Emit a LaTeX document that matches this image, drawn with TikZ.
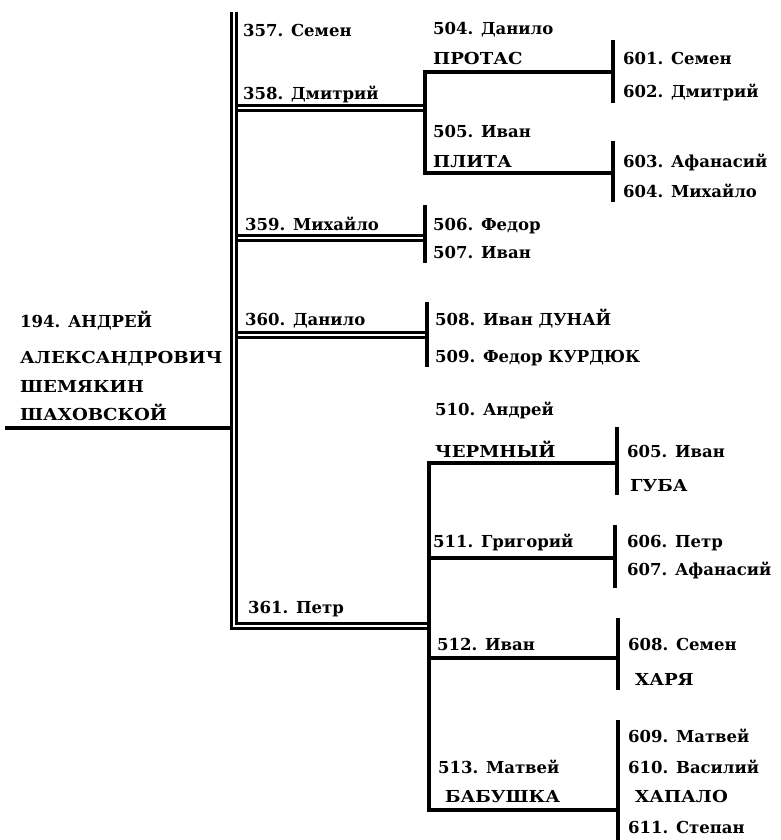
\documentclass[tikz,border=0pt]{standalone}
\usepackage{fontspec}
\setmainfont{DejaVu Serif}
\newfontfamily\capsfont[FakeStretch=1.1]{DejaVu Serif}
\begin{document}
\begin{tikzpicture}[x=1pt,y=-1pt,
  lbl/.style={anchor=base west,inner sep=0pt,font=\fontsize{16.5}{19}\selectfont\bfseries},
  caps/.style={lbl,font=\fontsize{16.5}{19}\capsfont\bfseries},
  bar/.style={line width=4pt},
  dbl/.style={double,double distance=2.6pt,line width=2.4pt}]
\useasboundingbox (0,0) rectangle (781,840);

% ---- labels ----
\node[lbl] (a194) at (20,327) {194. АНДРЕЙ};
\node[caps] (a194b) at (20,363) {АЛЕКСАНДРОВИЧ};
\node[caps] (a194c) at (20,392) {ШЕМЯКИН};
\node[caps] (a194d) at (20,420) {ШАХОВСКОЙ};

\node[lbl] (n357) at (243,37) {357. Семен};
\node[lbl] (n358) at (243,100) {358. Дмитрий};
\node[lbl] (n359) at (245,230) {359. Михайло};
\node[lbl] (n360) at (245,325) {360. Данило};
\node[lbl] (n361) at (248,613) {361. Петр};

\node[lbl] (n504) at (433,35) {504. Данило};
\node[caps] (n504b) at (433,65) {ПРОТАС};
\node[lbl] (n505) at (433,137) {505. Иван};
\node[caps] (n505b) at (433,167) {ПЛИТА};
\node[lbl] (n506) at (433,230) {506. Федор};
\node[lbl] (n507) at (433,258) {507. Иван};
\node[lbl] (n508) at (435,325) {508. Иван ДУНАЙ};
\node[lbl] (n509) at (435,362) {509. Федор КУРДЮК};
\node[lbl] (n510) at (435,415) {510. Андрей};
\node[caps] (n510b) at (435,457) {ЧЕРМНЫЙ};
\node[lbl] (n511) at (433,547) {511. Григорий};
\node[lbl] (n512) at (437,650) {512. Иван};
\node[lbl] (n513) at (438,773) {513. Матвей};
\node[caps] (n513b) at (445,802) {БАБУШКА};

\node[lbl] (n601) at (623,65) {601. Семен};
\node[lbl] (n602) at (623,98) {602. Дмитрий};
\node[lbl] (n603) at (623,167) {603. Афанасий};
\node[lbl] (n604) at (623,197) {604. Михайло};
\node[lbl] (n605) at (627,457) {605. Иван};
\node[caps] (n605b) at (630,491) {ГУБА};
\node[lbl] (n606) at (627,547) {606. Петр};
\node[lbl] (n607) at (627,575) {607. Афанасий};
\node[lbl] (n608) at (628,650) {608. Семен};
\node[caps] (n608b) at (635,685) {ХАРЯ};
\node[lbl] (n609) at (628,742) {609. Матвей};
\node[lbl] (n610) at (628,773) {610. Василий};
\node[caps] (n610b) at (635,802) {ХАПАЛО};
\node[lbl] (n611) at (628,833) {611. Степан};

% ---- coordinates ----
\coordinate (vTop) at (234,12);
\coordinate (vBot) at (234,626);
\coordinate (h361) at (429,626);
\coordinate (rootL) at (5,428);
\coordinate (rootR) at (230,428);
\coordinate (h358a) at (237.5,108);
\coordinate (h358b) at (425,108);
\coordinate (h359a) at (237.5,238);
\coordinate (h359b) at (425,238);
\coordinate (h360a) at (237.5,335);
\coordinate (h360b) at (427,335);

\coordinate (b5a) at (613,72);
\coordinate (b5b) at (425,72);
\coordinate (b5c) at (425,173);
\coordinate (b5d) at (613,173);
\coordinate (b601t) at (613,40);
\coordinate (b601b) at (613,103);
\coordinate (b603t) at (613,141);
\coordinate (b603b) at (613,202);
\coordinate (b506t) at (425,205);
\coordinate (b506b) at (425,263);
\coordinate (b508t) at (427,302);
\coordinate (b508b) at (427,367);

\coordinate (c510a) at (617,463);
\coordinate (c510b) at (429,463);
\coordinate (c513a) at (429,810);
\coordinate (c513b) at (618,810);
\coordinate (c511a) at (429,558);
\coordinate (c511b) at (615,558);
\coordinate (c512a) at (429,658);
\coordinate (c512b) at (618,658);
\coordinate (b605t) at (617,427);
\coordinate (b605b) at (617,495);
\coordinate (b606t) at (615,525);
\coordinate (b606b) at (615,588);
\coordinate (b608t) at (618,618);
\coordinate (b608b) at (618,690);
\coordinate (b609t) at (618,720);
\coordinate (b609b) at (618,840);

% ---- double lines ----
\draw[dbl] (vTop) -- (vBot) -- (h361);
\draw[dbl] (h358a) -- (h358b);
\draw[dbl] (h359a) -- (h359b);
\draw[dbl] (h360a) -- (h360b);

% ---- single lines ----
\draw[bar] (rootL) -- (rootR);
\draw[bar] (b5a) -- (b5b) -- (b5c) -- (b5d);
\draw[bar] (b601t) -- (b601b);
\draw[bar] (b603t) -- (b603b);
\draw[bar] (b506t) -- (b506b);
\draw[bar] (b508t) -- (b508b);
\draw[bar] (c510a) -- (c510b) -- (c513a) -- (c513b);
\draw[bar] (c511a) -- (c511b);
\draw[bar] (c512a) -- (c512b);
\draw[bar] (b605t) -- (b605b);
\draw[bar] (b606t) -- (b606b);
\draw[bar] (b608t) -- (b608b);
\draw[bar] (b609t) -- (b609b);
\end{tikzpicture}
\end{document}
